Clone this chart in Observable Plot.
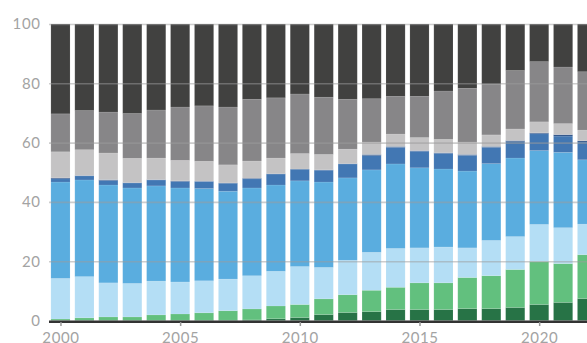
<!DOCTYPE html>
<html>
<head>
<meta charset="utf-8">
<script src="https://cdn.jsdelivr.net/npm/d3@7"></script>
<script src="https://cdn.jsdelivr.net/npm/@observablehq/plot@0.6"></script>
<style>
  html, body { margin: 0; padding: 0; background: #fff; overflow: hidden; }
  #chart { width: 587px; height: 343px; overflow: hidden; }
  #chart svg { max-width: none !important; }
</style>
</head>
<body>
<div id="chart"></div>
<script>
// Years (categories)
const years = [2000,2001,2002,2003,2004,2005,2006,2007,2008,2009,2010,2011,2012,2013,2014,2015,2016,2017,2018,2019,2020,2021,2022];

// Series (bottom to top), shares in percent
const seriesNames = ["Series 1","Series 2","Series 3","Series 4","Series 5","Series 6","Series 7","Series 8","Series 9"];
const seriesColors = ["#277346","#62c07e","#b4def5","#5aaddf","#4277b3","#2c5288","#c4c3c4","#878688","#414140"];

const s1 = [0.1,0.1,0.1,0.1,0.1,0.1,0.1,0.1,0.2,0.6,1.0,2.0,2.7,3.0,3.7,3.7,3.7,4.0,4.0,4.4,5.4,6.1,7.4];
const s2 = [0.4,0.8,1.1,1.1,1.8,2.1,2.5,3.2,3.7,4.3,4.4,5.3,6.0,7.2,7.5,9.0,9.0,10.5,11.1,12.8,14.5,13.1,14.8];
const s3 = [13.7,13.9,11.5,11.3,11.4,10.8,10.8,10.7,11.2,11.7,12.8,10.6,11.6,12.8,13.1,11.8,12.1,10.0,11.9,11.1,12.5,12.1,10.3];
const s4 = [32.5,32.6,33.0,32.2,32.1,31.7,31.1,29.6,29.6,29.1,28.9,28.8,27.8,27.8,28.5,27.0,26.3,25.9,25.9,26.5,24.9,25.4,21.7];
const s5 = [1.1,1.4,1.5,1.7,2.0,2.2,2.4,2.7,3.1,3.7,3.9,4.0,4.7,4.8,5.6,5.6,5.3,5.3,5.5,5.5,5.7,5.5,6.0];
const s6 = [0.3,0.1,0.3,0.1,0.1,0.2,0.1,0.1,0.2,0.1,0.1,0.1,0.1,0.4,0.3,0.2,0.2,0.3,0.3,0.4,0.3,0.5,0.4];
const s7 = [8.8,8.7,9.0,8.2,7.3,6.9,6.7,6.1,5.8,5.3,5.2,5.2,4.9,4.2,4.2,4.4,4.5,4.2,3.9,3.9,3.7,3.7,3.6];
const s8 = [12.8,13.2,13.8,15.1,16.2,18.0,18.7,19.5,20.8,20.3,20.1,19.3,16.8,14.6,12.7,13.9,16.3,18.1,17.1,19.7,20.3,19.1,19.7];
const s9 = [30.3,29.2,29.7,30.2,29.0,28.0,27.6,28.0,25.4,24.9,23.6,24.7,25.4,25.2,24.4,24.4,22.6,21.7,20.3,15.7,12.7,14.5,16.1];

const yTicks = [0,20,40,60,80,100];
const xTicks = [2000,2005,2010,2015,2020];

const allSeries = [s1,s2,s3,s4,s5,s6,s7,s8,s9];
const data = [];
allSeries.forEach((vals, si) => {
  vals.forEach((v, i) => data.push({year: years[i], series: seriesNames[si], value: v}));
});

const chart = Plot.plot({
  width: 600,
  height: 350,
  marginLeft: 49,
  marginRight: 0,
  marginTop: 24,
  marginBottom: 29.5,
  style: {fontFamily: "Lato, 'Open Sans', sans-serif", fontSize: "15px", color: "#a3a3a3", background: "#fff", letterSpacing: "0.6px"},
  x: {type: "band", domain: years, range: [48.5, 599], paddingInner: 0.2, paddingOuter: 0.1, round: false},
  y: {domain: [0, 100]},
  color: {domain: seriesNames, range: seriesColors},
  marks: [
    Plot.barY(data, {x: "year", y: "value", fill: "series", stroke: "#fff", strokeOpacity: 0.12, strokeWidth: 0.8}),
    Plot.ruleY(yTicks.filter(d => d > 0), {stroke: "#9c9c9c", strokeOpacity: 0.5, strokeWidth: 1.6}),
    Plot.ruleY([0], {stroke: "#333", strokeWidth: 2.4, dy: 0.8}),
    Plot.axisY({ticks: yTicks, tickSize: 0, tickPadding: 9, label: null}),
    Plot.axisX({ticks: xTicks, tickFormat: d => String(d), tickSize: 4, tickPadding: 6, label: null, stroke: "#999", strokeWidth: 1.5, dy: 1.5})
  ]
});
chart.style.maxWidth = "none";
chart.style.width = "600px";
chart.style.height = "350px";
document.getElementById("chart").appendChild(chart);
</script>
</body>
</html>
